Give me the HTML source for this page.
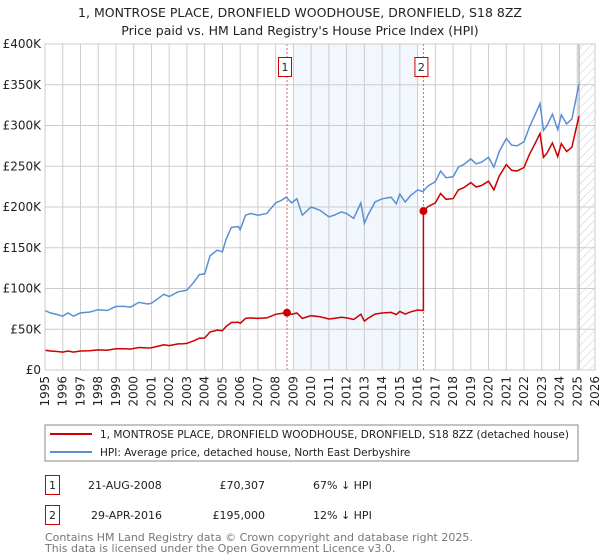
<!DOCTYPE html>
<html><head><meta charset="utf-8"><style>
body{margin:0;background:#fff;font-family:"Liberation Sans","DejaVu Sans",sans-serif;}
svg{display:block}
text{font-family:"DejaVu Sans","Liberation Sans",sans-serif;}
</style></head><body>
<svg id="chart" width="600" height="560">
<defs><pattern id="hatch" width="6" height="6" patternUnits="userSpaceOnUse" patternTransform="rotate(45)"><line x1="0" y1="0" x2="0" y2="6" stroke="#ccc" stroke-width="1"/></pattern></defs>
<text x="300" y="17" text-anchor="middle" font-size="12.5" fill="#222">1, MONTROSE PLACE, DRONFIELD WOODHOUSE, DRONFIELD, S18 8ZZ</text>
<text x="300" y="35" text-anchor="middle" font-size="12.5" fill="#222">Price paid vs. HM Land Registry's House Price Index (HPI)</text>
<g id="plot"></g>
<rect x="45" y="425" width="533" height="36" fill="#fff" stroke="#888"/>
<line x1="50" y1="434" x2="92" y2="434" stroke="#cc0000" stroke-width="2"/>
<text x="100" y="438" font-size="10.5" fill="#222" textLength="469" lengthAdjust="spacingAndGlyphs">1, MONTROSE PLACE, DRONFIELD WOODHOUSE, DRONFIELD, S18 8ZZ (detached house)</text>
<line x1="50" y1="452" x2="92" y2="452" stroke="#5b8fd4" stroke-width="2"/>
<text x="100" y="456" font-size="10.5" fill="#222">HPI: Average price, detached house, North East Derbyshire</text>
<g>
<rect x="45.5" y="475.5" width="14" height="19" fill="#fff" stroke="#cc0000"/>
<text x="52.5" y="489" text-anchor="middle" font-size="11" fill="#222">1</text>
<text x="88" y="489" font-size="11" fill="#222">21-AUG-2008</text>
<text x="265" y="489" text-anchor="end" font-size="11" fill="#222">£70,307</text>
<text x="313" y="489" font-size="11" fill="#222">67% ↓ HPI</text>
</g>
<g>
<rect x="45.5" y="505.5" width="14" height="19" fill="#fff" stroke="#cc0000"/>
<text x="52.5" y="519" text-anchor="middle" font-size="11" fill="#222">2</text>
<text x="91" y="519" font-size="11" fill="#222">29-APR-2016</text>
<text x="265" y="519" text-anchor="end" font-size="11" fill="#222">£195,000</text>
<text x="313" y="519" font-size="11" fill="#222">12% ↓ HPI</text>
</g>
<text x="45" y="541" font-size="11" fill="#777">Contains HM Land Registry data © Crown copyright and database right 2025.</text>
<text x="45" y="552" font-size="11" fill="#777">This data is licensed under the Open Government Licence v3.0.</text>
</svg>
<script>
const hpiYears=[1995,1995.3,1995.7,1996,1996.3,1996.6,1997,1997.5,1998,1998.5,1999,1999.5,1999.8,2000.3,2000.8,2001,2001.4,2001.7,2002,2002.5,2002.8,2003,2003.4,2003.7,2004,2004.3,2004.7,2005,2005.2,2005.5,2005.9,2006,2006.3,2006.6,2007,2007.5,2008,2008.3,2008.6,2008.9,2009.2,2009.5,2010,2010.5,2011,2011.3,2011.7,2012,2012.4,2012.8,2013,2013.2,2013.6,2014,2014.5,2014.8,2015,2015.3,2015.6,2016,2016.3,2016.6,2017,2017.3,2017.6,2018,2018.3,2018.6,2019,2019.3,2019.6,2020,2020.3,2020.6,2021,2021.3,2021.6,2022,2022.3,2022.6,2022.9,2023.1,2023.3,2023.6,2023.9,2024.1,2024.4,2024.7,2024.9,2025.1];
const hpiValues=[73,70,68,66,70,66,70,71,74,73,78,78,77,83,81,82,88,93,90,96,97,98,108,117,118,140,147,145,160,175,176,172,190,192,190,192,205,208,212,205,210,190,200,196,188,190,194,192,186,205,180,190,206,210,212,204,216,206,214,221,219,226,231,244,236,237,249,252,259,253,255,261,249,268,284,276,275,280,298,312,327,294,300,314,295,313,302,308,330,351];
const saleDates=[2008.64,2016.33];
const salePrices=[70307,195000];
const yTicks=[0,50,100,150,200,250,300,350,400];
const yTickLabels=["£0","£50K","£100K","£150K","£200K","£250K","£300K","£350K","£400K"];
const xYears=[1995,1996,1997,1998,1999,2000,2001,2002,2003,2004,2005,2006,2007,2008,2009,2010,2011,2012,2013,2014,2015,2016,2017,2018,2019,2020,2021,2022,2023,2024,2025,2026];
const L=45,R=595,T=44,B=370;
const xs=y=>L+(y-1995)*(R-L)/31;
const ys=v=>B-v*(B-T)/400;
const NS="http://www.w3.org/2000/svg";
const g=document.getElementById('plot');
function mk(tag,attrs,parent){const e=document.createElementNS(NS,tag);for(const k in attrs)e.setAttribute(k,attrs[k]);(parent||g).appendChild(e);return e;}
function hpiAt(t){for(let i=0;i<hpiYears.length-1;i++){if(t<=hpiYears[i+1]){const f=(t-hpiYears[i])/(hpiYears[i+1]-hpiYears[i]);return hpiValues[i]+f*(hpiValues[i+1]-hpiValues[i]);}}return hpiValues[hpiValues.length-1];}
let e=mk('rect',{x:L,y:T,width:R-L,height:B-T,fill:'#fff'});


e=mk('rect',{x:xs(2009),y:T,width:xs(2016)-xs(2009),height:B-T,fill:'#f2f6fd'});


e=mk('rect',{x:xs(2025.1),y:T,width:R-xs(2025.1),height:B-T,fill:'url(#hatch)'});


yTicks.forEach((v,i)=>{
 const l=mk('line',{x1:L,x2:R,y1:ys(v),y2:ys(v),stroke:'#ccc','stroke-width':1});
 
 
 const t=mk('text',{x:L-4,y:ys(v)+4,'text-anchor':'end','font-size':12,fill:'#222'});
 t.textContent=yTickLabels[i];
 
 
});
xYears.forEach(yr=>{
 const l=mk('line',{x1:xs(yr),x2:xs(yr),y1:T,y2:B,stroke:'#ccc','stroke-width':1});
 
 
 const t=mk('text',{x:0,y:0,'text-anchor':'end','font-size':12,fill:'#222',transform:`translate(${xs(yr)+4},${B+6}) rotate(-90)`});
 t.textContent=yr;
 
 
});
e=mk('line',{x1:xs(2025.1),x2:xs(2025.1),y1:T,y2:B,stroke:'#999','stroke-width':1});


saleDates.forEach((d,i)=>{
 const l=mk('line',{x1:xs(d),x2:xs(d),y1:T,y2:B,stroke:'#e06060','stroke-width':1,'stroke-dasharray':'2,2'});
 
 
 const r=mk('rect',{x:xs(d)-8.5,y:57.5,width:13,height:19,fill:'#fff',stroke:'#cc0000'});
 
 
 const t=mk('text',{x:xs(d)-2,y:71,'text-anchor':'middle','font-size':11,fill:'#222'});
 t.textContent=String(i+1);
 
 
});
const hp=hpiYears.map((y,i)=>`${i?'L':'M'}${xs(y).toFixed(1)},${ys(hpiValues[i]).toFixed(1)}`).join('');
e=mk('path',{d:hp,fill:'none',stroke:'#5b8fd4','stroke-width':1.5});


let pts=[];
hpiYears.forEach((y,i)=>{
 let k=0; if(y>=saleDates[1])k=1;
 if(i>0&&hpiYears[i-1]<saleDates[1]&&y>=saleDates[1]){
  pts.push([saleDates[1],salePrices[0]/1000*hpiAt(saleDates[1])/hpiAt(saleDates[0])]);
  pts.push([saleDates[1],salePrices[1]/1000]);
 }
 pts.push([y,salePrices[k]/1000*hpiValues[i]/hpiAt(saleDates[k])]);
});
const rp=pts.map((p,i)=>`${i?'L':'M'}${xs(p[0]).toFixed(1)},${ys(p[1]).toFixed(1)}`).join('');
e=mk('path',{d:rp,fill:'none',stroke:'#cc0000','stroke-width':1.5});


saleDates.forEach((d,i)=>{
 const c=mk('circle',{cx:xs(d),cy:ys(salePrices[i]/1000),r:4,fill:'#cc0000'});
 
 
});
e=mk('rect',{x:L,y:T,width:R-L,height:B-T,fill:'none',stroke:'#ccc'});


</script>
</body></html>
